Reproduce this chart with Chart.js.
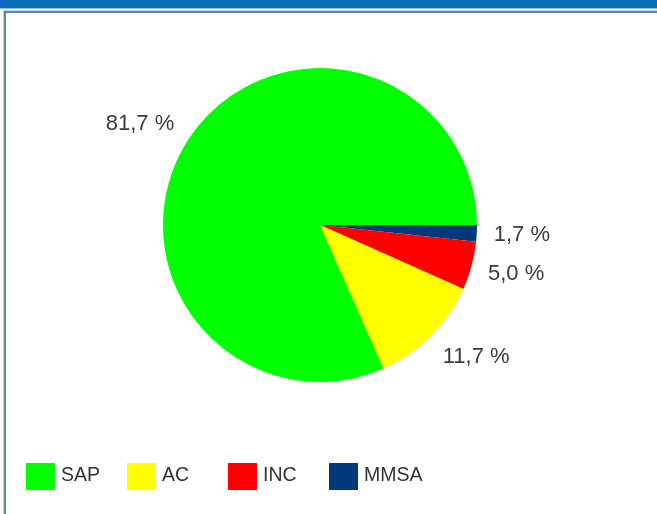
<!DOCTYPE html>
<html>
<head>
<meta charset="utf-8">
<script src="https://cdn.jsdelivr.net/npm/chart.js@4/dist/chart.umd.min.js"></script>
<style>
  html, body { margin: 0; padding: 0; background: #fff; }
  body { width: 657px; height: 514px; position: relative; overflow: hidden; font-family: "Liberation Sans", Arial, sans-serif; }
  #topbar { position: absolute; left: 0; top: 0; width: 657px; height: 8px; background: #0b6db8; border-bottom: 1px solid #8dbde6; }
  #frame { position: absolute; left: 4px; top: 11px; width: 700px; height: 600px; border-left: 2px solid #6488ab; border-top: 2px solid #6488ab; box-shadow: -1px -1px 0 #bcd6ee; }
  #chart-wrap { position: absolute; left: 0; top: 0; width: 657px; height: 514px; }
  #legend { position: absolute; left: 26px; top: 463px; display: flex; }
  .item { width: 101px; display: flex; align-items: flex-start; }
  .box { width: 29px; height: 27px; margin-right: 6px; }
  .txt { font-size: 19.5px; color: #333; line-height: 20px; margin-top: 1px; }
</style>
</head>
<body>
<div id="topbar"></div>
<div id="frame"></div>
<div id="chart-wrap"><canvas id="chart" width="657" height="514"></canvas></div>
<div id="legend"></div>
<script>
const categories = ["SAP", "AC", "INC", "MMSA"];
const shares = [81.7, 11.7, 5.0, 1.7];
const colors = ["#00ff00", "#ffff00", "#ff0000", "#003a7d"];

// the pie runs clockwise from 3 o'clock in reverse legend order
const pieLabels = categories.slice().reverse();
const pieValues = shares.slice().reverse();
const pieColors = colors.slice().reverse();

const formatShare = (v) => v.toFixed(1).replace(".", ",") + " %";

const outsideLabels = {
  id: "outsideLabels",
  afterDatasetsDraw(chart) {
    const ctx = chart.ctx;
    const meta = chart.getDatasetMeta(0);
    ctx.save();
    ctx.font = "22px 'Liberation Sans', Arial, sans-serif";
    ctx.fillStyle = "#3a3a3a";
    ctx.textBaseline = "middle";
    meta.data.forEach((arc, i) => {
      const p = arc.getProps(["x", "y", "startAngle", "endAngle", "outerRadius"], true);
      const mid = (p.startAngle + p.endAngle) / 2;
      const c = Math.cos(mid), s = Math.sin(mid);
      const dist = p.outerRadius + 17;
      ctx.textAlign = c >= 0 ? "left" : "right";
      ctx.fillText(formatShare(pieValues[i]), p.x + dist * c, p.y + dist * s + 12 * s);
    });
    ctx.restore();
  },
};

const buildLegend = () => {
  const el = document.getElementById("legend");
  categories.forEach((name, i) => {
    const item = document.createElement("div");
    item.className = "item";
    item.innerHTML = '<div class="box" style="background:' + colors[i] + '"></div><div class="txt">' + name + "</div>";
    el.appendChild(item);
  });
};

window.addEventListener("DOMContentLoaded", () => {
  buildLegend();
  new Chart(document.getElementById("chart"), {
    type: "pie",
    data: {
      labels: pieLabels,
      datasets: [{ data: pieValues, backgroundColor: pieColors, borderWidth: 0 }],
    },
    options: {
      responsive: false,
      animation: false,
      rotation: 90,
      layout: { padding: { left: 100, right: 117, top: 68, bottom: 132 } },
      plugins: { legend: { display: false }, tooltip: { enabled: false } },
    },
    plugins: [outsideLabels],
  });
});
</script>
</body>
</html>
